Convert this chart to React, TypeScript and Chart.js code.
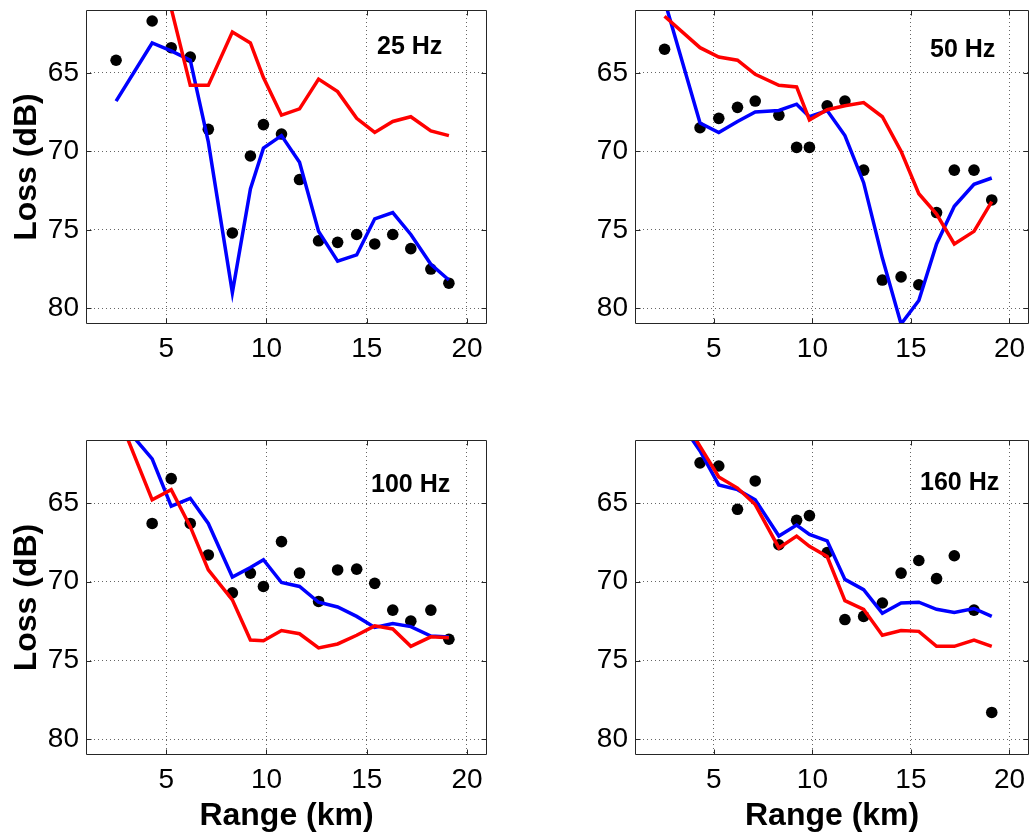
import React, { useEffect, useRef } from 'react';
import { Chart, registerables } from 'chart.js';

Chart.register(...registerables);

// ---------- data ----------
const RANGE_KM = [2.5, 4.3, 5.25, 6.2, 7.1, 8.3, 9.2, 9.85, 10.75, 11.65, 12.6, 13.55, 14.5, 15.4, 16.3, 17.2, 18.2, 19.1];
const X_TICKS = [5, 10, 15, 20];
const Y_TICKS = [65, 70, 75, 80];
const X_MIN = 1;
const X_MAX = 21;
const Y_MIN = 61;
const Y_MAX = 81;

const MEAS_25 = [64.2, 61.7, 63.4, 64.0, 68.6, 75.2, 70.3, 68.3, 68.9, 71.8, 75.7, 75.8, 75.3, 75.9, 75.3, 76.2, 77.5, 78.4];
const BLUE_25 = [66.8, 63.1, 63.6, 64.2, 69.4, 79.0, 72.4, 69.8, 69.0, 70.7, 75.1, 77.0, 76.6, 74.3, 73.9, 75.3, 77.2, 78.2];
const RED_25 = [48.0, 53.0, 60.9, 65.8, 65.8, 62.4, 63.1, 65.3, 67.7, 67.3, 65.4, 66.2, 67.9, 68.8, 68.1, 67.8, 68.7, 69.0];

const MEAS_50 = [63.5, 68.5, 67.9, 67.2, 66.8, 67.7, 69.75, 69.75, 67.1, 66.8, 71.2, 78.2, 78.0, 78.5, 73.9, 71.2, 71.2, 73.1];
const BLUE_50 = [60.4, 68.2, 68.8, 68.1, 67.5, 67.4, 67.0, 67.8, 67.4, 69.0, 72.0, 76.8, 81.0, 79.5, 75.9, 73.5, 72.1, 71.7];
const RED_50 = [61.4, 63.4, 64.0, 64.2, 65.1, 65.8, 65.9, 68.0, 67.35, 67.1, 66.9, 67.8, 70.0, 72.7, 74.0, 75.9, 75.1, 73.2];

const MEAS_100 = [null, 66.3, 63.45, 66.3, 68.3, 70.7, 69.45, 70.3, 67.45, 69.45, 71.25, 69.25, 69.2, 70.1, 71.8, 72.5, 71.8, 73.65];
const BLUE_100 = [59.5, 62.2, 65.2, 64.7, 66.3, 69.7, 69.1, 68.6, 70.05, 70.3, 71.3, 71.6, 72.2, 72.9, 72.65, 72.85, 73.45, 73.5];
const RED_100 = [59.1, 64.8, 64.15, 66.5, 69.25, 71.15, 73.7, 73.75, 73.1, 73.3, 74.2, 73.95, 73.4, 72.8, 73.0, 74.1, 73.5, 73.55];

const MEAS_160 = [null, 62.45, 62.65, 65.4, 63.6, 67.65, 66.1, 65.8, 68.15, 72.4, 72.2, 71.35, 69.45, 68.65, 69.8, 68.35, 71.8, 78.3];
const BLUE_160 = [58.4, 61.7, 63.85, 64.15, 64.8, 67.1, 66.4, 67.0, 67.4, 69.85, 70.5, 72.0, 71.35, 71.3, 71.75, 71.95, 71.7, 72.2];
const RED_160 = [57.7, 61.4, 63.35, 64.05, 65.1, 67.85, 67.1, 67.75, 68.4, 71.2, 71.75, 73.4, 73.1, 73.15, 74.1, 74.1, 73.7, 74.1];

const FREQ_LABELS = ['25 Hz', '50 Hz', '100 Hz', '160 Hz'];
const Y_TITLE = 'Loss (dB)';
const X_TITLE = 'Range (km)';

// ---------- styling ----------
const FONT = "'Liberation Sans', Arial, Helvetica, sans-serif";
const BOX_COLOR = '#262626';

const boxPlugin = {
  id: 'matlabBox',
  afterDatasetsDraw(chart: any, _args: any, opts: any) {
    const { ctx, chartArea: a, scales } = chart;
    ctx.save();
    ctx.setLineDash([]);
    ctx.strokeStyle = BOX_COLOR;
    ctx.lineWidth = 1;
    const L = Math.round(a.left) + 0.5;
    const T = Math.round(a.top) + 0.5;
    const R = Math.round(a.right) - 0.5;
    const B = Math.round(a.bottom) - 0.5;
    ctx.beginPath();
    ctx.rect(L, T, R - L, B - T);
    const tl = 5;
    for (const v of X_TICKS) {
      const px = Math.round(scales.x.getPixelForValue(v)) + 0.5;
      ctx.moveTo(px, B); ctx.lineTo(px, B - tl);
      ctx.moveTo(px, T); ctx.lineTo(px, T + tl);
    }
    for (const v of Y_TICKS) {
      const py = Math.round(scales.y.getPixelForValue(v)) + 0.5;
      ctx.moveTo(L, py); ctx.lineTo(L + tl, py);
      ctx.moveTo(R, py); ctx.lineTo(R - tl, py);
    }
    ctx.stroke();
    ctx.fillStyle = '#000';
    ctx.font = `bold 25px ${FONT}`;
    ctx.textBaseline = 'alphabetic';
    ctx.textAlign = 'left';
    ctx.fillText(opts.label, a.left + opts.dx, a.top + opts.dy);
    ctx.restore();
  },
};

type Area = { l: number; t: number; r: number; b: number };
type PanelProps = {
  label: string;
  meas: (number | null)[];
  blue: number[];
  red: number[];
  showYTitle: boolean;
  showXTitle: boolean;
  left: number;
  top: number;
  width: number;
  height: number;
  area: Area;
  dx: number;
  dy: number;
};

function Panel(p: PanelProps) {
  const ref = useRef<HTMLCanvasElement>(null);
  useEffect(() => {
    if (!ref.current) return;
    const toPts = (ys: (number | null)[]) => RANGE_KM.map((x, i) => ({ x, y: ys[i] }));
    const chart = new Chart(ref.current, {
      type: 'scatter',
      data: {
        datasets: [
          {
            label: 'Model (red)',
            data: toPts(p.red) as any,
            showLine: true,
            borderColor: '#ff0000',
            backgroundColor: '#ff0000',
            borderWidth: 3.5,
            pointRadius: 0,
            tension: 0,
            order: 0,
            clip: 0,
          } as any,
          {
            label: 'Model (blue)',
            data: toPts(p.blue) as any,
            showLine: true,
            borderColor: '#0000ff',
            backgroundColor: '#0000ff',
            borderWidth: 3.5,
            pointRadius: 0,
            tension: 0,
            order: 1,
            clip: 0,
          } as any,
          {
            label: 'Measured',
            data: toPts(p.meas) as any,
            showLine: false,
            backgroundColor: '#000',
            borderColor: '#000',
            borderWidth: 0,
            pointRadius: 5.8,
            order: 2,
            clip: 0,
          } as any,
        ],
      },
      options: {
        responsive: false,
        animation: false,
        devicePixelRatio: 1,
        events: [],
        layout: { padding: { left: 0, top: p.area.t, right: p.width - p.area.r, bottom: 0 } },
        plugins: {
          legend: { display: false },
          tooltip: { enabled: false },
          matlabBox: { label: p.label, dx: p.dx, dy: p.dy },
        } as any,
        scales: {
          x: {
            type: 'linear',
            min: X_MIN,
            max: X_MAX,
            afterBuildTicks: (s: any) => {
              s.ticks = X_TICKS.map((v) => ({ value: v }));
            },
            afterFit: (s: any) => {
              s.height = p.height - p.area.b;
              s.paddingLeft = 0;
              s.paddingRight = 0;
              s.paddingTop = 0;
              s.paddingBottom = 0;
            },
            grid: { color: '#666', lineWidth: 1, drawTicks: false },
            border: { display: false, dash: [1, 3] },
            ticks: { color: '#000', font: { family: FONT, size: 28 }, padding: 8, maxRotation: 0 },
            title: {
              display: p.showXTitle,
              text: X_TITLE,
              color: '#000',
              font: { family: FONT, size: 32, weight: 'bold' },
              padding: { top: 0, bottom: 1 },
            },
          },
          y: {
            type: 'linear',
            reverse: true,
            min: Y_MIN,
            max: Y_MAX,
            afterBuildTicks: (s: any) => {
              s.ticks = Y_TICKS.map((v) => ({ value: v }));
            },
            afterFit: (s: any) => {
              s.width = p.area.l;
              s.paddingLeft = 0;
              s.paddingRight = 0;
              s.paddingTop = 0;
              s.paddingBottom = 0;
            },
            grid: { color: '#666', lineWidth: 1, drawTicks: false },
            border: { display: false, dash: [1, 3] },
            ticks: { color: '#000', font: { family: FONT, size: 28 }, padding: 7 },
            title: {
              display: p.showYTitle,
              text: Y_TITLE,
              color: '#000',
              font: { family: FONT, size: 32, weight: 'bold' },
              padding: { top: 8, bottom: 0 },
            },
          },
        },
      } as any,
      plugins: [boxPlugin as any],
    });
    return () => chart.destroy();
  }, []);
  return (
    <canvas
      ref={ref}
      width={p.width}
      height={p.height}
      style={{ position: 'absolute', left: p.left, top: p.top, width: p.width, height: p.height, display: 'block' }}
    />
  );
}

export default function App() {
  return (
    <div style={{ position: 'absolute', left: 0, top: 0, width: 1035, height: 836, background: '#fff', overflow: 'hidden' }}>
      <Panel label={FREQ_LABELS[0]} meas={MEAS_25} blue={BLUE_25} red={RED_25} showYTitle showXTitle={false}
        left={0} top={0} width={517} height={380} area={{ l: 86, t: 10, r: 487, b: 324 }} dx={291} dy={44} />
      <Panel label={FREQ_LABELS[1]} meas={MEAS_50} blue={BLUE_50} red={RED_50} showYTitle={false} showXTitle={false}
        left={535} top={0} width={500} height={380} area={{ l: 100, t: 10, r: 500, b: 324 }} dx={295} dy={47} />
      <Panel label={FREQ_LABELS[2]} meas={MEAS_100} blue={BLUE_100} red={RED_100} showYTitle showXTitle
        left={0} top={400} width={517} height={436} area={{ l: 86, t: 40, r: 487, b: 355 }} dx={285} dy={52} />
      <Panel label={FREQ_LABELS[3]} meas={MEAS_160} blue={BLUE_160} red={RED_160} showYTitle={false} showXTitle
        left={535} top={400} width={500} height={436} area={{ l: 100, t: 40, r: 500, b: 355 }} dx={285} dy={50} />
    </div>
  );
}
